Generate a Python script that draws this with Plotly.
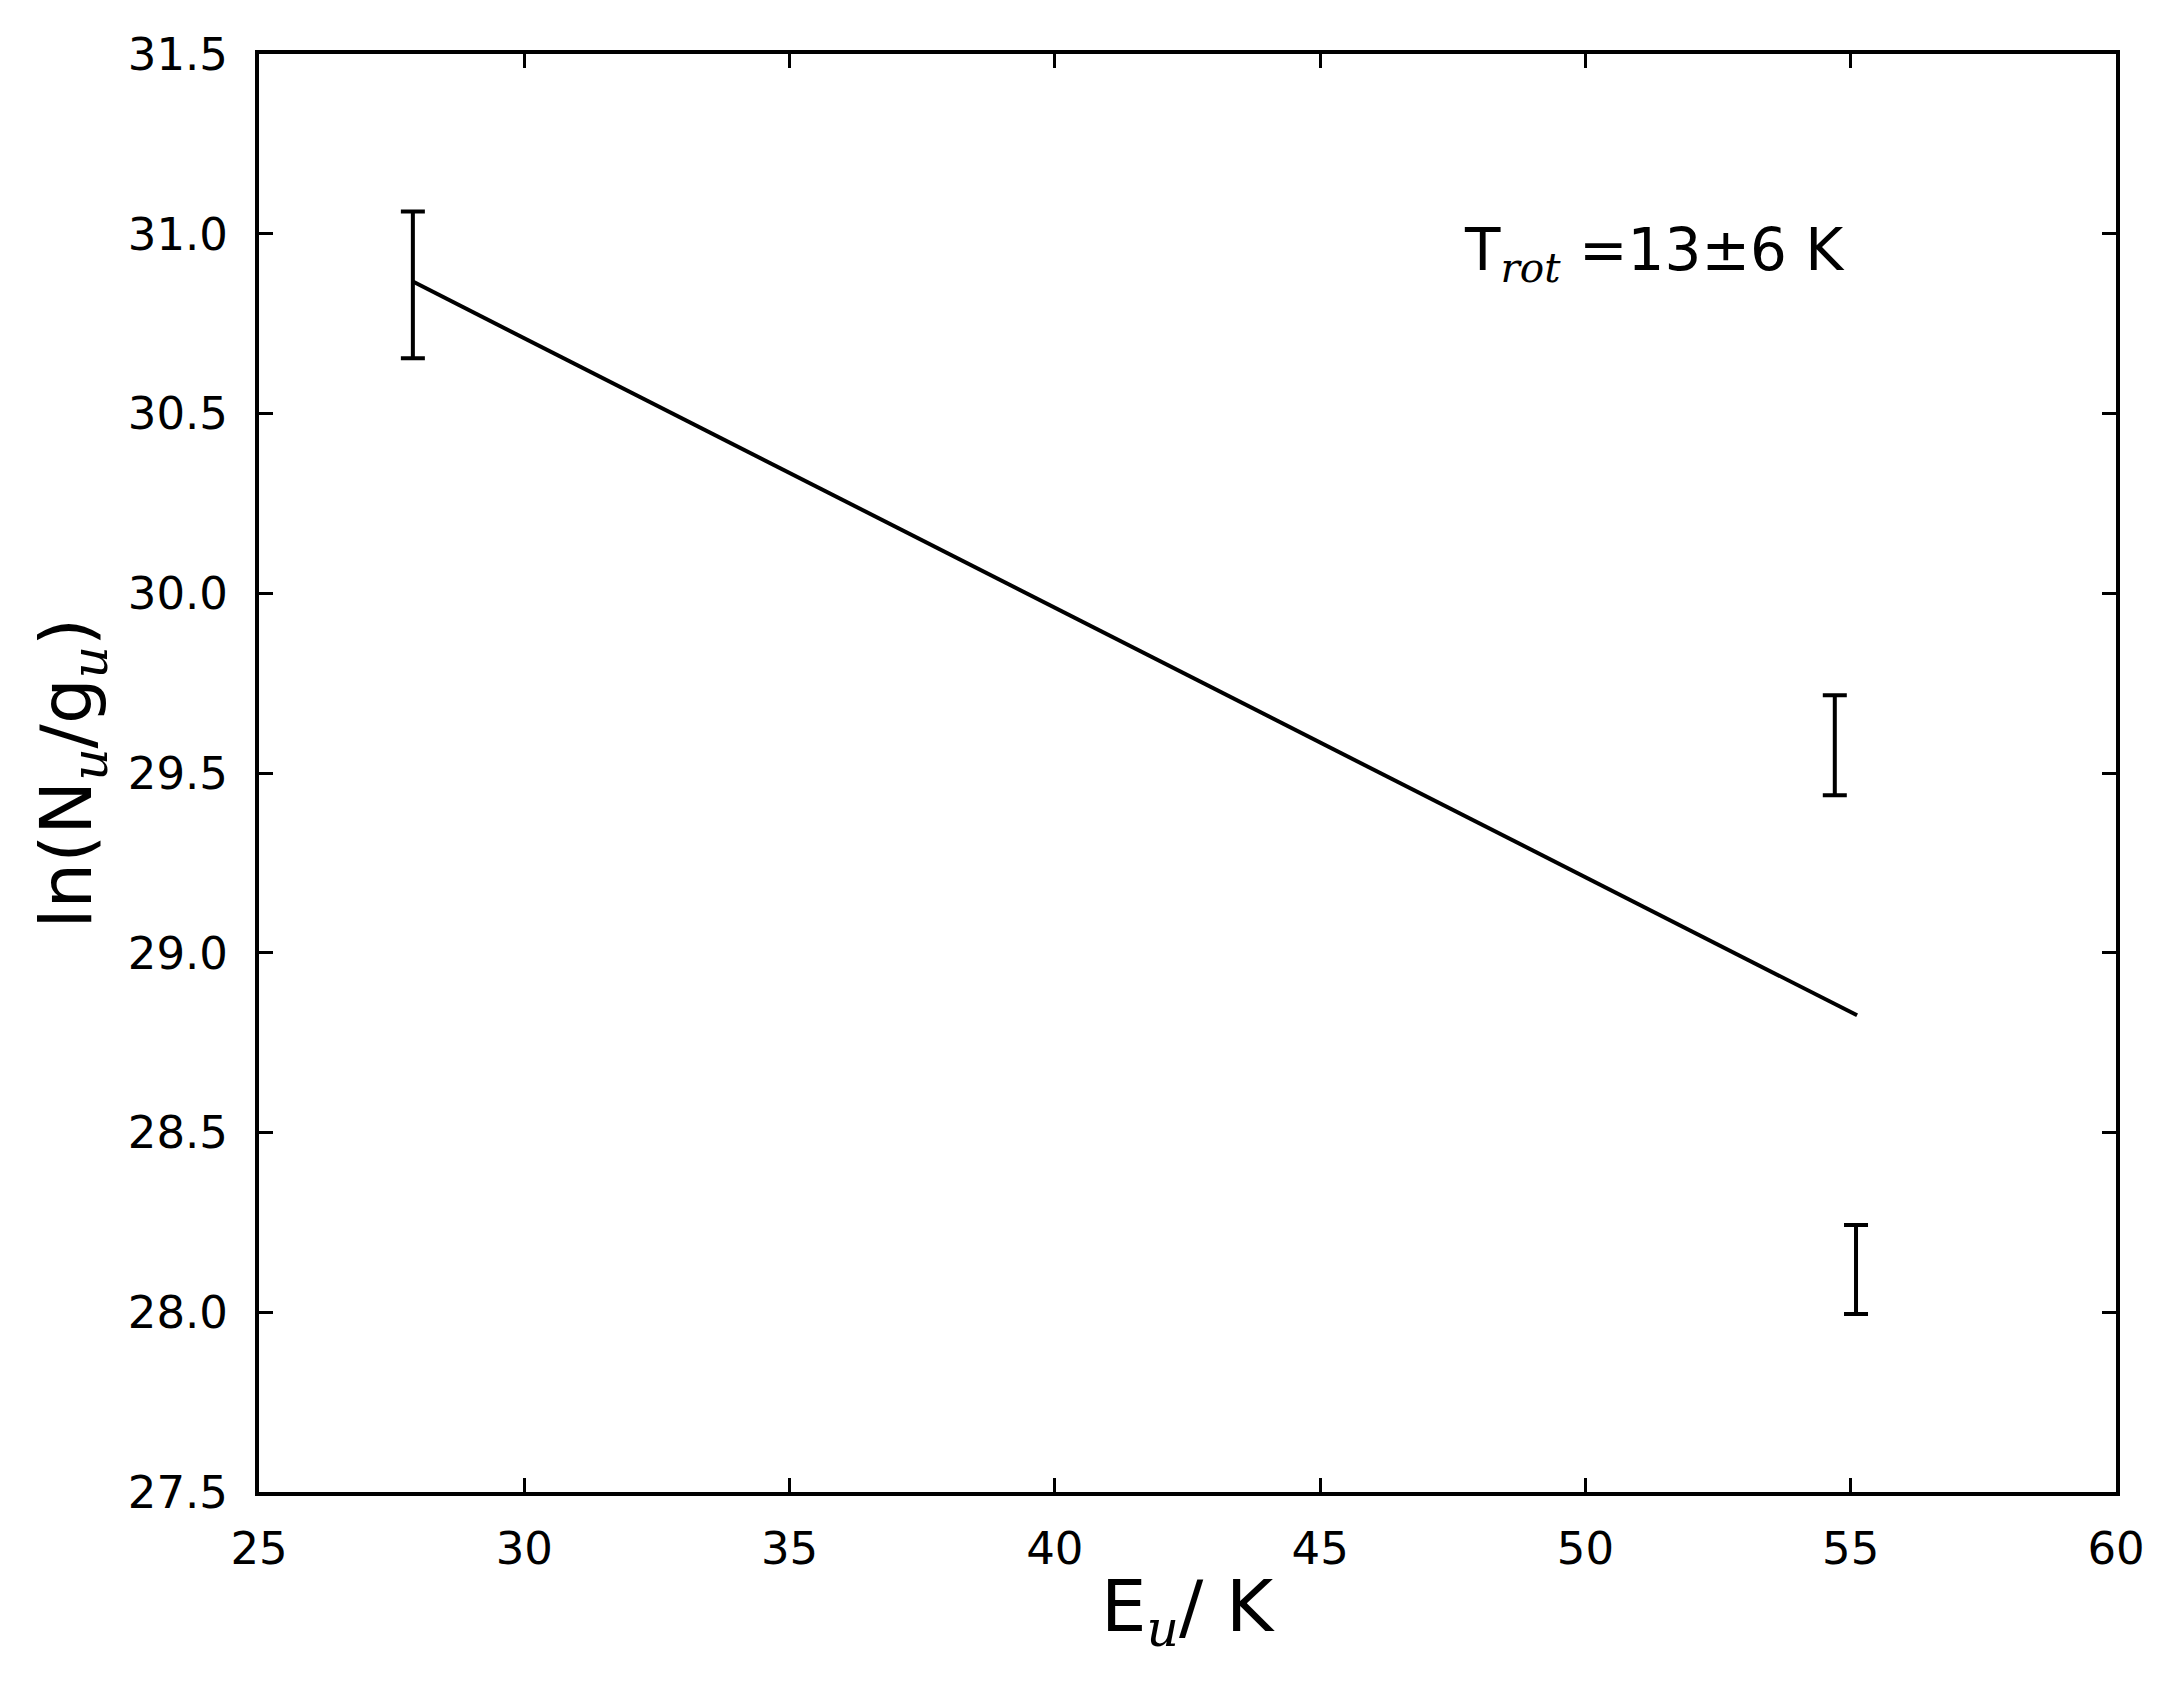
import plotly.graph_objects as go

# Data
e_u = [27.90, 54.70, 55.10]            # upper-level energy (K)
ln_ng = [30.858, 29.577, 28.119]       # ln(Nu/gu)
ln_err = [0.204, 0.139, 0.124]         # error bar half-heights

fit_x = [27.90, 55.12]
fit_y = [30.867, 28.826]

x_ticks = [25, 30, 35, 40, 45, 50, 55, 60]
y_ticks = [27.5, 28.0, 28.5, 29.0, 29.5, 30.0, 30.5, 31.0, 31.5]

FONT = "DejaVu Sans, sans-serif"

fig = go.Figure()
fig.add_trace(go.Scatter(
    x=fit_x, y=fit_y, mode="lines",
    line=dict(color="black", width=4), showlegend=False))
fig.add_trace(go.Scatter(
    x=e_u, y=ln_ng, mode="markers",
    marker=dict(size=1, color="rgba(0,0,0,0)"),
    error_y=dict(type="data", array=ln_err, visible=True,
                 color="black", thickness=4, width=12),
    showlegend=False))

axis_common = dict(
    showline=True, linecolor="black", linewidth=4, mirror="allticks",
    ticks="inside", ticklen=14, tickwidth=2.5, tickcolor="black",
    showgrid=False, zeroline=False,
    tickfont=dict(family=FONT, size=45, color="black"),
)

fig.update_xaxes(range=[25, 60], tickvals=x_ticks,
                 ticktext=[str(v) for v in x_ticks],
                 ticklabelstandoff=14, **axis_common)
fig.update_yaxes(range=[27.5, 31.5], tickvals=y_ticks,
                 ticktext=[f"{v:.1f}" for v in y_ticks],
                 ticklabelstandoff=18, **axis_common)

sub = "<sub><i><span style='font-family:DejaVu Serif, serif'>{}</span></i></sub>"

fig.add_annotation(
    xref="paper", yref="paper", x=0.5, y=-0.083, yanchor="middle",
    xanchor="center", showarrow=False,
    text="E" + sub.format("u") + "/ K",
    font=dict(family=FONT, size=72, color="black"))
fig.add_annotation(
    xref="paper", yref="paper", x=-0.101, y=0.5, xanchor="center",
    yanchor="middle", showarrow=False, textangle=-90,
    text="ln(N" + sub.format("u") + "/g" + sub.format("u") + ")",
    font=dict(family=FONT, size=72, color="black"))
fig.add_annotation(
    xref="x", yref="y", x=51.3, y=30.945, xanchor="center",
    yanchor="middle", showarrow=False,
    text="T" + sub.format("rot") + " =13±6 K",
    font=dict(family=FONT, size=58, color="black"))

fig.update_layout(
    width=2177, height=1682,
    margin=dict(l=251, r=69, t=46, b=198),
    paper_bgcolor="white", plot_bgcolor="white",
)

fig.write_html("out.html")
